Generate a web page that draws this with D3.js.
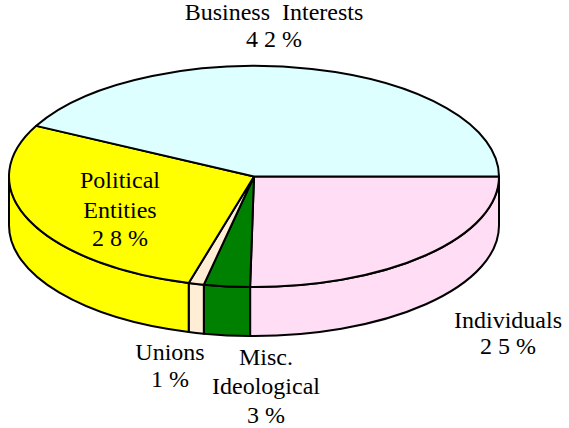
<!DOCTYPE html>
<html><head><meta charset="utf-8">
<script src="https://cdn.jsdelivr.net/npm/d3@7"></script>
<style>
svg text { font-family: "Liberation Serif", "Times New Roman", Times, serif !important; }
</style>
</head><body style="margin:0">
<svg id="chart" width="569" height="428"></svg>
<script>
const categories = ["Individuals", "Misc. Ideological", "Unions", "Political Entities", "Business Interests"];
const values = [25, 3, 1, 28, 42];
const percentLabels = ["2 5 %", "3 %", "1 %", "2 8 %", "4 2 %"];
const colors = ["#FFDDF4", "#008000", "#FFEDD5", "#FFFF00", "#DDFFFF"];

const svg = d3.select("#chart");
const cx = 254, cy = 176.5, rx = 245, ry = 110.5, depth = 49;

const pie = d3.pie().sort(null).startAngle(0).endAngle(2 * Math.PI);
const arcs = pie(values);

const P = (t, dy = 0) => [cx + rx * Math.cos(t), cy + ry * Math.sin(t) + dy];

const walls = arcs.map((a, i) => {
  const t0 = Math.max(a.startAngle, 0), t1 = Math.min(a.endAngle, Math.PI);
  return t1 > t0 ? {t0, t1, i} : null;
}).filter(Boolean);

svg.append("g").selectAll("path").data(walls).join("path")
  .attr("d", w => {
    const a = P(w.t0), b = P(w.t1), bb = P(w.t1, depth), ab = P(w.t0, depth);
    const large = (w.t1 - w.t0) > Math.PI ? 1 : 0;
    return `M${a}A${rx},${ry} 0 ${large} 1 ${b}L${bb}A${rx},${ry} 0 ${large} 0 ${ab}Z`;
  })
  .attr("fill", w => colors[w.i])
  .attr("stroke", "#000").attr("stroke-width", 2).attr("stroke-linejoin", "round");

svg.append("g").selectAll("path").data(arcs).join("path")
  .attr("d", a => {
    const s = P(a.startAngle), e = P(a.endAngle);
    const large = (a.endAngle - a.startAngle) > Math.PI ? 1 : 0;
    return `M${cx},${cy}L${s}A${rx},${ry} 0 ${large} 1 ${e}Z`;
  })
  .attr("fill", (a, i) => colors[i])
  .attr("stroke", "#000").attr("stroke-width", 2).attr("stroke-linejoin", "round");

const labelLayout = [
  {x: 508, lines: [{t: "Individuals", y: 328}, {t: percentLabels[0], y: 354}]},
  {x: 266, lines: [{t: "Misc.", y: 365}, {t: "Ideological", y: 394}, {t: percentLabels[1], y: 423}]},
  {x: 170, lines: [{t: "Unions", y: 360}, {t: percentLabels[2], y: 387}]},
  {x: 120, lines: [{t: "Political", y: 188}, {t: "Entities", y: 218}, {t: percentLabels[3], y: 246}]},
  {x: 274, lines: [{t: "Business\u00A0 Interests", y: 20}, {t: percentLabels[4], y: 47}]}
];
labelLayout.forEach(l => {
  l.lines.forEach(ln => {
    svg.append("text").attr("x", l.x).attr("y", ln.y)
      .attr("text-anchor", "middle")
      .attr("fill", "#000")
      .attr("font-size", 24)
      .attr("font-family", "Liberation Serif")
      .text(ln.t);
  });
});
</script>
</body></html>
